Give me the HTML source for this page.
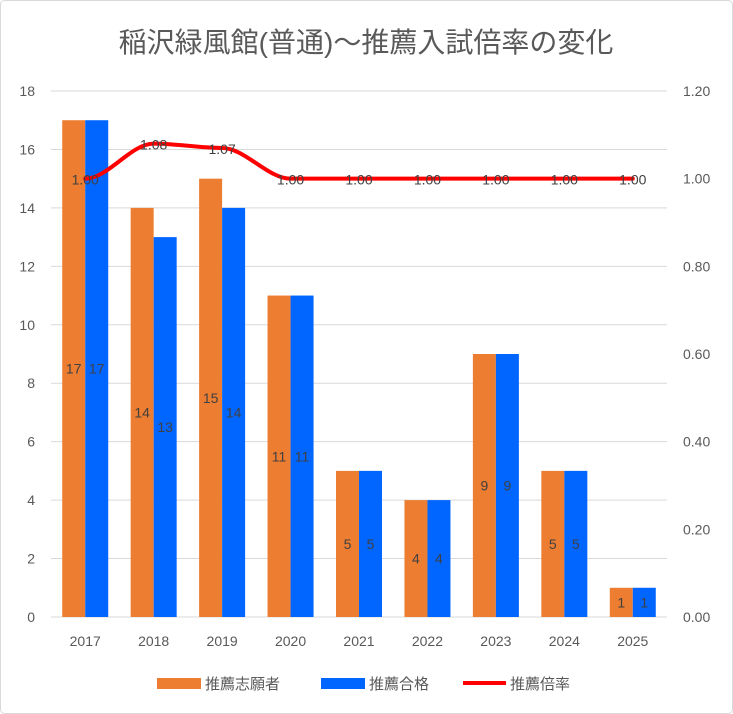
<!DOCTYPE html>
<html><head><meta charset="utf-8"><style>
body{margin:0;background:#fff;}
svg{display:block;font-family:"Liberation Sans","Noto Sans CJK JP",sans-serif;}
</style></head><body>
<svg id="chart" width="733" height="714">
<rect x="0.5" y="0.5" width="732" height="713" rx="4" fill="#fff" stroke="#d9d9d9"/>
<text x="366" y="52" text-anchor="middle" font-size="28" fill="#595959">稲沢緑風館(普通)～推薦入試倍率の変化</text>
<g id="grid"></g><g id="bars"></g><g id="line"></g><g id="labels"></g>
<g>
<rect x="157" y="678" width="44" height="11" fill="#ED7D31"/>
<text x="205" y="689" font-size="15" fill="#595959">推薦志願者</text>
<rect x="321" y="678" width="44" height="11" fill="#0066FF"/>
<text x="369" y="689" font-size="15" fill="#595959">推薦合格</text>
<line x1="463" y1="683" x2="506" y2="683" stroke="#FF0000" stroke-width="4"/>
<text x="510" y="689" font-size="15" fill="#595959">推薦倍率</text>
</g>
</svg>
<script>
const categories=["2017","2018","2019","2020","2021","2022","2023","2024","2025"];
const applicants=[17,14,15,11,5,4,9,5,1];
const passed=[17,13,14,11,5,4,9,5,1];
const ratio=[1.00,1.08,1.07,1.00,1.00,1.00,1.00,1.00,1.00];
const leftTicks=[0,2,4,6,8,10,12,14,16,18];
const rightTicks=[0,0.2,0.4,0.6,0.8,1.0,1.2];
const NS="http://www.w3.org/2000/svg";
const plotTop=91,plotBottom=617,plotLeft=51,plotRight=667;
const yL=v=>plotBottom-(v/18)*(plotBottom-plotTop);
const yR=v=>plotBottom-(v/1.2)*(plotBottom-plotTop);
const step=(plotRight-plotLeft)/categories.length;
const xC=i=>plotLeft+step*(i+0.5);
const bw=23;
function mk(tag,attrs,parent,text){const e=document.createElementNS(NS,tag);for(const k in attrs)e.setAttribute(k,attrs[k]);if(text!==undefined)e.textContent=text;document.getElementById(parent).appendChild(e);return e;}
leftTicks.forEach(t=>{
  const g=mk('line',{x1:plotLeft,x2:plotRight,y1:yL(t),y2:yL(t),stroke:'#d9d9d9','stroke-width':1},'grid');
  
  
  const l=mk('text',{x:35,y:yL(t)+5,'text-anchor':'end','font-size':14,fill:'#595959'},'grid',String(t));
  
  
});
rightTicks.forEach(t=>{
  const l=mk('text',{x:683,y:yR(t)+5,'font-size':14,fill:'#595959'},'grid',t.toFixed(2));
  
  
});
categories.forEach((c,i)=>{
  const l=mk('text',{x:xC(i),y:646,'text-anchor':'middle','font-size':14,fill:'#595959'},'grid',c);
  
  
  const a=mk('rect',{x:xC(i)-bw,y:yL(applicants[i]),width:bw,height:plotBottom-yL(applicants[i]),fill:'#ED7D31'},'bars');
  
  
  const p=mk('rect',{x:xC(i),y:yL(passed[i]),width:bw,height:plotBottom-yL(passed[i]),fill:'#0066FF'},'bars');
  
  
  const la=mk('text',{x:xC(i)-bw/2,y:(yL(applicants[i])+plotBottom)/2+5,'text-anchor':'middle','font-size':14,fill:'#404040'},'labels',String(applicants[i]));
  
  
  const lp=mk('text',{x:xC(i)+bw/2,y:(yL(passed[i])+plotBottom)/2+5,'text-anchor':'middle','font-size':14,fill:'#404040'},'labels',String(passed[i]));
  
  
  const lr=mk('text',{x:xC(i),y:yR(ratio[i])+6,'text-anchor':'middle','font-size':14,fill:'#404040'},'labels',ratio[i].toFixed(2));
  
  
});
const axis=mk('line',{x1:plotLeft,x2:plotRight,y1:plotBottom,y2:plotBottom,stroke:'#d9d9d9'},'grid');


let d="";
ratio.forEach((r,i)=>{
  if(i===0){d+="M"+xC(i)+","+yR(r);}
  else{const x0=xC(i-1),y0=yR(ratio[i-1]),x1=xC(i),y1=yR(r);const dx=(x1-x0)/3;d+=" C"+(x0+dx)+","+y0+" "+(x1-dx)+","+y1+" "+x1+","+y1;}
});
const ln=mk('path',{d:d,fill:'none',stroke:'#FF0000','stroke-width':4,'stroke-linecap':'round'},'line');


</script>
</body></html>
